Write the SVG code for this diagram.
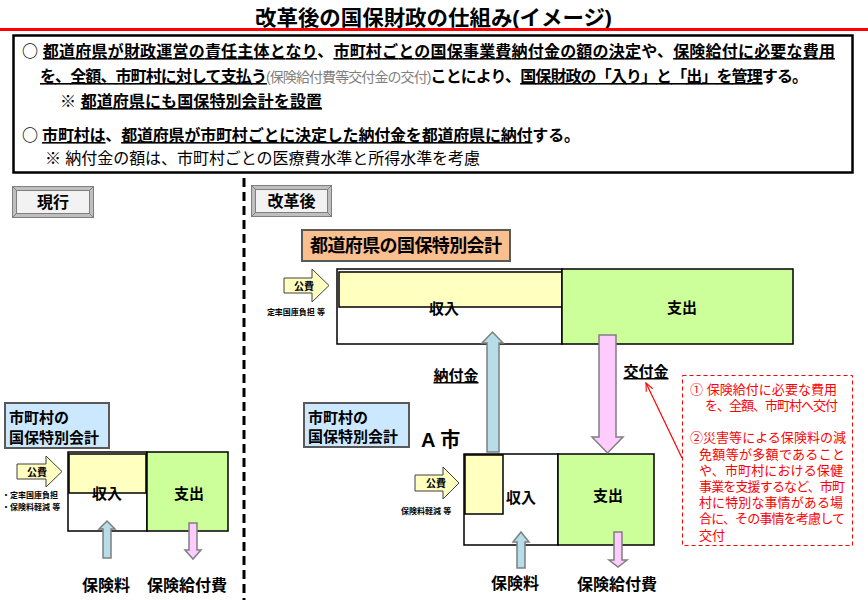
<svg xmlns="http://www.w3.org/2000/svg" width="868" height="600" viewBox="0 0 868 600">
<defs>
<style>
text{font-family:"Liberation Sans","Noto Sans CJK JP",sans-serif;fill:#000}
.b{font-weight:bold}
.u{text-decoration:underline}
.cj{font-family:"Noto Sans CJK JP",sans-serif}
.gy{fill:#7f7f7f;font-weight:normal;font-size:14px}
.lbl{font-weight:bold;text-anchor:middle;dominant-baseline:central}
.sm{font-weight:bold}
.red{fill:#ff0000;font-size:13px}
.yel{fill:#ffffc0;stroke:#000;stroke-width:1.5}
.grn{fill:#ccff99;stroke:#000;stroke-width:1.5}
.wht{fill:#fff;stroke:#000;stroke-width:1.5}
.blue{fill:#b7dde8;stroke:#7f7f7f;stroke-width:1.5}
.pink{fill:#ffccff;stroke:#7f7f7f;stroke-width:1.5}
.kohi{fill:#ffffc0;stroke:#404040;stroke-width:1}
.acc{fill:#cce8ff;stroke:#595959;stroke-width:2}
</style>
<marker id="ra" viewBox="0 0 10 10" refX="9" refY="5" markerWidth="9" markerHeight="9" orient="auto" markerUnits="userSpaceOnUse">
<path d="M0,1 L9,5 L0,9" fill="none" stroke="#ff0000" stroke-width="1.2"/>
</marker>
</defs>
<rect width="868" height="600" fill="#fff"/>

<g id="title">
<text x="433.5" y="25" text-anchor="middle" class="b" font-size="21" textLength="357" lengthAdjust="spacingAndGlyphs">改革後の国保財政の仕組み(イメージ)</text>
<rect x="0" y="28" width="868" height="3" fill="#ff0000"/>
</g>

<g id="summary">
<rect x="13.5" y="35.5" width="839" height="137" fill="#fff" stroke="#000" stroke-width="2.5"/>
<text x="22" y="57" font-size="16" class="b" textLength="813"><tspan class="cj">○</tspan> <tspan class="u">都道府県が財政運営の責任主体となり</tspan>、<tspan class="u">市町村ごとの国保事業費納付金の額の決定</tspan>や、<tspan class="u">保険給付に必要な費用</tspan></text>
<text x="40" y="82" font-size="16" class="b" textLength="768"><tspan class="u">を、全額、市町村に対して支払う</tspan><tspan class="gy">(保険給付費等交付金の交付)</tspan>ことにより、<tspan class="u">国保財政の「入り」と「出」を管理</tspan>する。</text>
<text x="60" y="107" font-size="16" class="b" textLength="262"><tspan class="cj">※</tspan> <tspan class="u">都道府県にも国保特別会計を設置</tspan></text>
<text x="22" y="141" font-size="16" class="b" textLength="558"><tspan class="cj">○</tspan> <tspan class="u">市町村は</tspan>、<tspan class="u">都道府県が市町村ごとに決定した納付金を都道府県に納付</tspan>する。</text>
<text x="45" y="164" font-size="16" textLength="435"><tspan class="cj">※</tspan> 納付金の額は、市町村ごとの医療費水準と所得水準を考慮</text>
</g>

<g id="divider">
<line x1="244" y1="178" x2="244" y2="600" stroke="#000" stroke-width="3" stroke-dasharray="9 5"/>
</g>

<g id="btn-current">
<rect x="12.5" y="186.5" width="81" height="31" fill="#bfbfbf" stroke="#7f7f7f"/>
<rect x="16.5" y="190.5" width="73" height="23" fill="#f2f2f2" stroke="#7f7f7f"/>
<path d="M12.5,186.5 L16.5,190.5 M93.5,186.5 L89.5,190.5 M12.5,217.5 L16.5,213.5 M93.5,217.5 L89.5,213.5" stroke="#7f7f7f" fill="none"/>
<text x="53" y="202" class="lbl" font-size="16">現行</text>
</g>

<g id="btn-reform">
<rect x="251.5" y="185.5" width="80" height="31" fill="#bfbfbf" stroke="#7f7f7f"/>
<rect x="255.5" y="189.5" width="72" height="23" fill="#f2f2f2" stroke="#7f7f7f"/>
<path d="M251.5,185.5 L255.5,189.5 M331.5,185.5 L327.5,189.5 M251.5,216.5 L255.5,212.5 M331.5,216.5 L327.5,212.5" stroke="#7f7f7f" fill="none"/>
<text x="291.5" y="201" class="lbl" font-size="16">改革後</text>
</g>

<g id="pref-title">
<rect x="302" y="230" width="208" height="31" fill="#fabf8f" stroke="#595959" stroke-width="2"/>
<text x="406" y="246" class="lbl" font-size="18" textLength="192">都道府県の国保特別会計</text>
</g>

<g id="pref-account">
<rect x="337" y="269" width="225" height="75" class="wht"/>
<rect x="339" y="272" width="223" height="35" class="yel"/>
<text x="444" y="308" class="lbl" font-size="15">収入</text>
<rect x="562" y="269" width="231" height="75" class="grn"/>
<text x="682" y="307" class="lbl" font-size="15">支出</text>
</g>

<g id="pref-kohi">
<polygon points="284,278 312,278 312,269 329,285.5 312,302 312,293 284,293" class="kohi"/>
<text x="304" y="286" class="sm" font-size="10" text-anchor="middle" dominant-baseline="central">公費</text>
<text x="296" y="315" class="sm" font-size="8" text-anchor="middle">定率国庫負担 等</text>
</g>

<g id="left-title">
<rect x="5" y="403" width="104" height="45" class="acc"/>
<text x="9" y="423" font-size="15" class="b">市町村の</text>
<text x="9" y="443" font-size="15" class="b">国保特別会計</text>
</g>

<g id="left-account">
<rect x="68" y="452" width="79" height="79" class="wht"/>
<rect x="69" y="454" width="77" height="39" class="yel"/>
<text x="107" y="493" class="lbl" font-size="15">収入</text>
<rect x="147" y="452" width="81" height="79" class="grn"/>
<text x="189" y="493" class="lbl" font-size="15">支出</text>
</g>

<g id="left-kohi">
<polygon points="17,464 46,464 46,456 62,471.5 46,487 46,479 17,479" class="kohi"/>
<text x="37" y="472" class="sm" font-size="10" text-anchor="middle" dominant-baseline="central">公費</text>
<text x="2" y="498" class="sm" font-size="8">・定率国庫負担</text>
<text x="2" y="510" class="sm" font-size="8">・保険料軽減 等</text>
</g>

<g id="a-title">
<rect x="304" y="403" width="105" height="44" class="acc"/>
<text x="308" y="423" font-size="15" class="b">市町村の</text>
<text x="308" y="442" font-size="15" class="b">国保特別会計</text>
<text x="421" y="447" font-size="20" class="b">A 市</text>
</g>

<g id="a-account">
<rect x="464" y="454" width="94" height="91" class="wht"/>
<rect x="465" y="455" width="38" height="59" class="yel"/>
<text x="521" y="497" class="lbl" font-size="15">収入</text>
<rect x="558" y="454" width="96" height="91" class="grn"/>
<text x="608" y="495" class="lbl" font-size="15">支出</text>
</g>

<g id="a-kohi">
<polygon points="415,475 443,475 443,467 459,483 443,499 443,491 415,491" class="kohi"/>
<text x="436" y="483" class="sm" font-size="10" text-anchor="middle" dominant-baseline="central">公費</text>
<text x="401" y="514" class="sm" font-size="8">保険料軽減 等</text>
</g>

<g id="note">
<rect x="682.5" y="375.5" width="170" height="170" fill="#fff" stroke="#ff0000" stroke-width="1" stroke-dasharray="4 3"/>
<text class="red" x="690" y="394" textLength="147">① 保険給付に必要な費用</text>
<text class="red" x="705" y="410" textLength="133">を、全額、市町村へ交付</text>
<text class="red" x="690" y="442" textLength="156">②災害等による保険料の減</text>
<text class="red" x="699" y="459" textLength="146">免額等が多額であること</text>
<text class="red" x="699" y="475" textLength="144">や、市町村における保健</text>
<text class="red" x="699" y="491" textLength="146">事業を支援するなど、市町</text>
<text class="red" x="699" y="507" textLength="144">村に特別な事情がある場</text>
<text class="red" x="699" y="523" textLength="146">合に、その事情を考慮して</text>
<text class="red" x="699" y="540">交付</text>
</g>

<g id="labels">
<text x="456" y="381" text-anchor="middle" font-size="15" class="b u">納付金</text>
<text x="646" y="377" text-anchor="middle" font-size="15" class="b u">交付金</text>
<text x="106" y="591" text-anchor="middle" font-size="16" class="b">保険料</text>
<text x="187" y="591" text-anchor="middle" font-size="16" class="b">保険給付費</text>
<text x="515" y="589" text-anchor="middle" font-size="16" class="b">保険料</text>
<text x="617" y="590" text-anchor="middle" font-size="16" class="b">保険給付費</text>
</g>

<g id="connectors">
<polygon points="487,452 487,343 482,343 492.5,332 503,343 499,343 499,452" class="blue"/>
<polygon points="599,335 616,335 616,437 623,437 607.5,453 592,437 599,437" class="pink"/>
<polygon points="103,558 103,529 99,529 107,521 115,529 111,529 111,558" class="blue"/>
<polygon points="189,523 197,523 197,550 201,550 193,559 185,550 189,550" class="pink"/>
<polygon points="517,568 517,542 513,542 521,532 529,542 525,542 525,568" class="blue"/>
<polygon points="614,532 622,532 622,560 627,560 618,567 609,560 614,560" class="pink"/>
<line x1="682" y1="458" x2="646" y2="383" stroke="#ff0000" stroke-width="1.2" marker-end="url(#ra)"/>
</g>
</svg>
